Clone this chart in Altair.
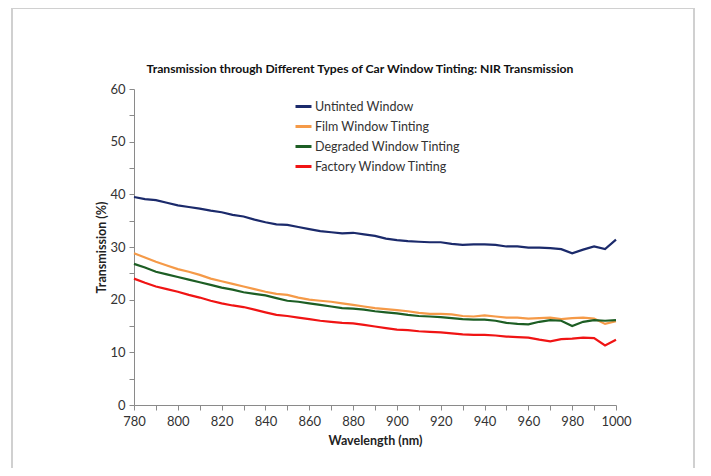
import altair as alt
import pandas as pd

wavelengths = list(range(780, 1001, 5))

untinted = [39.5, 39.1, 38.9, 38.4, 37.9, 37.6, 37.3, 36.9, 36.6, 36.1, 35.8, 35.2, 34.7, 34.3,
            34.2, 33.8, 33.4, 33.0, 32.8, 32.6, 32.7, 32.4, 32.1, 31.6, 31.3, 31.1, 31.0, 30.9,
            30.9, 30.6, 30.4, 30.5, 30.5, 30.4, 30.1, 30.1, 29.9, 29.9, 29.8, 29.6, 28.8, 29.5,
            30.1, 29.6, 31.4]
film = [28.8, 28.0, 27.2, 26.5, 25.8, 25.3, 24.7, 24.0, 23.5, 23.0, 22.5, 22.0, 21.5, 21.1,
        20.9, 20.4, 20.0, 19.8, 19.6, 19.3, 19.0, 18.7, 18.4, 18.2, 18.0, 17.8, 17.5, 17.3,
        17.3, 17.2, 16.9, 16.8, 17.0, 16.8, 16.6, 16.6, 16.4, 16.5, 16.6, 16.3, 16.5, 16.6,
        16.4, 15.4, 15.9]
degraded = [26.8, 26.1, 25.3, 24.8, 24.3, 23.8, 23.3, 22.8, 22.3, 21.9, 21.4, 21.1, 20.8, 20.3,
            19.8, 19.6, 19.3, 19.0, 18.7, 18.4, 18.3, 18.1, 17.8, 17.6, 17.4, 17.1, 16.9, 16.8,
            16.7, 16.5, 16.3, 16.2, 16.2, 16.0, 15.6, 15.4, 15.3, 15.8, 16.1, 16.0, 15.0, 15.8,
            16.1, 16.0, 16.1]
factory = [24.0, 23.2, 22.5, 22.0, 21.5, 20.9, 20.4, 19.8, 19.3, 18.9, 18.6, 18.1, 17.6, 17.1,
           16.9, 16.6, 16.3, 16.0, 15.8, 15.6, 15.5, 15.2, 14.9, 14.6, 14.3, 14.2, 14.0, 13.9,
           13.8, 13.6, 13.4, 13.3, 13.3, 13.2, 13.0, 12.9, 12.8, 12.4, 12.1, 12.5, 12.6, 12.8,
           12.7, 11.3, 12.4]

series_names = ["Untinted Window", "Film Window Tinting", "Degraded Window Tinting", "Factory Window Tinting"]
series_colors = ["#1b2a6b", "#f59a48", "#1d5e24", "#f01414"]
chart_title = "Transmission through Different Types of Car Window Tinting: NIR Transmission"

rows = []
for name, vals in zip(series_names, [untinted, film, degraded, factory]):
    for w, v in zip(wavelengths, vals):
        rows.append({"Wavelength": w, "Transmission": v, "Series": name})
df = pd.DataFrame(rows)

FONT = "Lato"
x_ticks = list(range(780, 1001, 10))
y_ticks = list(range(0, 61, 5))

lines = alt.Chart(df).mark_line(strokeWidth=2.2).encode(
    x=alt.X("Wavelength:Q",
            scale=alt.Scale(domain=[780, 1000], nice=False, zero=False),
            axis=alt.Axis(title="Wavelength (nm)", values=x_ticks, labelFlush=False,
                          labelOverlap=False,
                          labelExpr="(datum.value - 780) % 20 == 0 ? datum.value : ''")),
    y=alt.Y("Transmission:Q",
            scale=alt.Scale(domain=[0, 60], nice=False),
            axis=alt.Axis(title="Transmission (%)", values=y_ticks, labelFlush=False,
                          labelOverlap=False,
                          labelExpr="datum.value % 10 == 0 ? datum.value : ''")),
    color=alt.Color("Series:N",
                    scale=alt.Scale(domain=series_names, range=series_colors),
                    sort=series_names,
                    legend=alt.Legend(title=None, orient="none", legendX=160, legendY=8,
                                      symbolType="stroke", symbolSize=256, symbolStrokeWidth=3,
                                      labelFontSize=12.5, labelFont=FONT, labelColor="#333333",
                                      rowPadding=4, labelOffset=2)),
)

frame = alt.Chart(pd.DataFrame({"a": [0]})).mark_rect(
    fill=None, stroke="#d0d0d0", strokeWidth=2
).encode(x=alt.value(-122), x2=alt.value(560), y=alt.value(-81), y2=alt.value(400))

title_text = alt.Chart(pd.DataFrame({"t": [chart_title]})).mark_text(
    font=FONT, fontSize=12.2, fontWeight="bold", color="#111111", baseline="middle", align="center"
).encode(text="t:N", x=alt.value(226), y=alt.value(-20))

chart = alt.layer(frame, title_text, lines).properties(
    width=482, height=316,
    autosize=alt.AutoSizeParams(type="none"),
    padding={"left": 126, "top": 81, "right": 87, "bottom": 63},
).configure_view(stroke=None).configure_axis(
    grid=False, domainColor="#8a8a8a", tickColor="#8a8a8a", tickSize=5,
    labelFont=FONT, labelFontSize=13, labelColor="#333333",
    titleFont=FONT, titleFontSize=12.5, titleFontWeight="bold", titleColor="#222222",
).configure_axisX(titlePadding=6, labelPadding=5).configure_axisY(titlePadding=1, labelPadding=4)

chart.save("out.html", embed_options={"renderer": "svg", "actions": False})
